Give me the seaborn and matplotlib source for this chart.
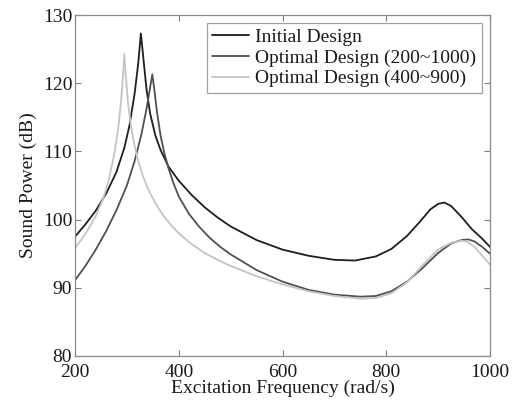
import matplotlib
matplotlib.use("Agg")
import matplotlib.pyplot as plt
import seaborn as sns
import pandas as pd

# ---- data ----
init_x = [200, 220, 240, 260, 280, 295, 305, 315, 322, 327, 332, 338, 345, 355, 365, 380, 400,
          425, 450, 475, 500, 550, 600, 650, 700, 740, 780, 810, 840, 865, 885, 900, 912, 925,
          945, 965, 985, 1000]
init_y = [97.5, 99.3, 101.3, 103.8, 107.0, 110.5, 113.8, 118.5, 123.0, 127.3, 123.5, 119.0, 115.5,
          112.3, 110.2, 107.8, 105.7, 103.6, 101.8, 100.3, 99.0, 97.0, 95.6, 94.7, 94.1, 94.0,
          94.6, 95.7, 97.6, 99.7, 101.5, 102.3, 102.5, 102.0, 100.4, 98.6, 97.2, 96.0]

opt1_x = [200, 220, 240, 260, 280, 300, 315, 328, 338, 344, 349, 353, 358, 365, 372, 380, 390,
          400, 420, 440, 460, 480, 500, 550, 600, 650, 700, 750, 780, 810, 840, 870, 900, 925,
          945, 958, 970, 985, 1000]
opt1_y = [91.1, 93.2, 95.6, 98.3, 101.4, 105.0, 108.6, 112.5, 116.3, 119.0, 121.3, 119.0, 115.8,
          112.3, 109.8, 107.6, 105.3, 103.4, 100.8, 98.9, 97.3, 96.0, 94.9, 92.6, 90.9, 89.7,
          89.0, 88.7, 88.8, 89.5, 90.9, 92.9, 95.1, 96.5, 97.0, 97.1, 96.8, 96.0, 95.0]

opt2_x = [200, 220, 240, 255, 265, 275, 283, 289, 293, 295, 298, 302, 307, 313, 320, 330, 340,
          355, 370, 385, 400, 425, 450, 475, 500, 550, 600, 650, 700, 750, 780, 810, 840, 870,
          900, 925, 945, 955, 970, 985, 1000]
opt2_y = [95.8, 97.9, 100.5, 103.2, 105.8, 109.3, 113.2, 117.5, 121.5, 124.3, 121.0, 117.3, 114.2,
          111.5, 109.1, 106.6, 104.6, 102.4, 100.6, 99.2, 98.0, 96.4, 95.1, 94.1, 93.2, 91.7,
          90.5, 89.5, 88.8, 88.4, 88.5, 89.2, 90.8, 93.3, 95.6, 96.6, 96.9, 96.8, 96.0, 94.7,
          93.4]

series_names = ["Initial Design", "Optimal Design (200~1000)", "Optimal Design (400~900)"]
x_ticks = [200, 400, 600, 800, 1000]
y_ticks = [80, 90, 100, 110, 120, 130]

frames = []
for name, xs, ys in zip(series_names, [init_x, opt1_x, opt2_x], [init_y, opt1_y, opt2_y]):
    frames.append(pd.DataFrame({"freq": xs, "power": ys, "series": name}))
df = pd.concat(frames, ignore_index=True)

sns.set_style("ticks")
plt.rcParams["font.family"] = ["Liberation Serif", "DejaVu Serif"]

fig = plt.figure(figsize=(5.16, 4.13), dpi=100)
ax = fig.add_axes([75 / 516, 57 / 413, 415 / 516, 341 / 413])

palette = {series_names[0]: "#1e1e1e", series_names[1]: "#505050", series_names[2]: "#c4c4c4"}
sns.lineplot(data=df, x="freq", y="power", hue="series", palette=palette, sort=False,
             estimator=None, errorbar=None, linewidth=1.3, ax=ax)

ax.set_xlim(200, 1000)
ax.set_ylim(80, 130)
ax.set_xticks(x_ticks)
ax.set_yticks(y_ticks)
ax.tick_params(direction="in", top=True, right=True, length=4, width=0.8,
               color="#808080", labelsize=14, labelcolor="#1a1a1a")
ax.tick_params(axis="x", pad=6)
ax.tick_params(axis="y", pad=2)
for s in ax.spines.values():
    s.set_visible(True)
    s.set_color("#8a8a8a")
    s.set_linewidth(0.9)

ax.set_xlabel("Excitation Frequency (rad/s)", fontsize=14, color="#1a1a1a", labelpad=-1)
ax.set_ylabel("Sound Power (dB)", fontsize=14, color="#1a1a1a", labelpad=4)

leg = ax.legend(loc="upper right", fontsize=14, frameon=True, fancybox=False,
                edgecolor="#8a8a8a", borderaxespad=0.4, handlelength=1.9,
                handletextpad=0.3, labelspacing=0.15, borderpad=0.3)
leg.get_frame().set_linewidth(0.9)
for t in leg.get_texts():
    t.set_color("#1a1a1a")

fig.savefig("out.png", dpi=100)
